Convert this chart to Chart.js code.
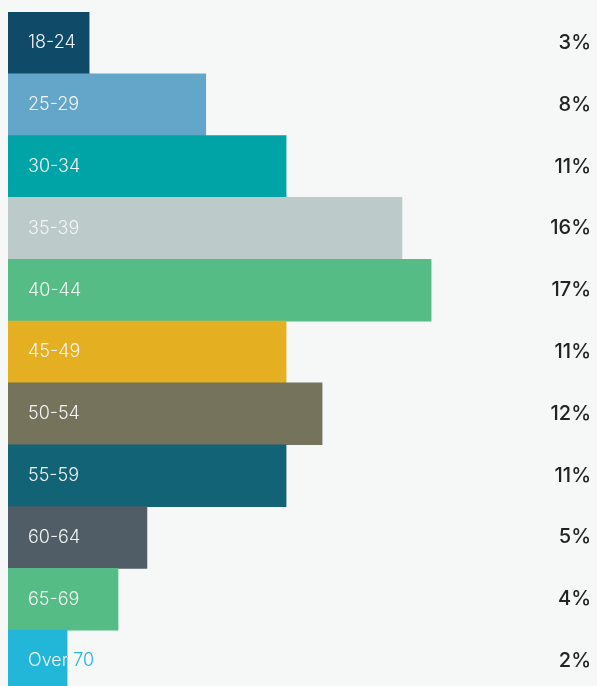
<!DOCTYPE html>
<html>
<head>
<meta charset="utf-8">
<script src="https://cdn.jsdelivr.net/npm/chart.js@4/dist/chart.umd.min.js"></script>
<style>
  html, body { margin: 0; padding: 0; background: #f6f8f8; overflow: hidden; }
  #wrap { width: 597px; height: 700px; }
</style>
</head>
<body>
<div id="wrap"><canvas id="c" width="597" height="700"></canvas></div>
<script>
const categories = ["18-24", "25-29", "30-34", "35-39", "40-44", "45-49", "50-54", "55-59", "60-64", "65-69", "Over 70"];
const values = [3.2, 7.8, 10.97, 15.54, 16.69, 10.97, 12.39, 10.97, 5.48, 4.34, 2.33];
const valueLabels = ["3%", "8%", "11%", "16%", "17%", "11%", "12%", "11%", "5%", "4%", "2%"];
const barColors = ["#0f4a69", "#64a6c9", "#00a4a6", "#bccaca", "#56bc85", "#e4b021", "#75735b", "#126376", "#505d66", "#56bc85", "#22b6d8"];

const labelPlugin = {
  id: 'labels',
  afterDatasetsDraw(chart) {
    const ctx = chart.ctx;
    const meta = chart.getDatasetMeta(0);
    meta.data.forEach((bar, i) => {
      const p = bar.getProps(['x', 'y', 'base', 'height'], true);
      const top = p.y - p.height / 2;
      ctx.save();
      ctx.font = '300 18px Inter, "Helvetica Neue", Arial, sans-serif';
      ctx.textBaseline = 'middle';
      ctx.textAlign = 'left';
      const tx = p.base + 20;
      ctx.fillStyle = barColors[i];
      ctx.fillText(categories[i], tx, p.y);
      ctx.beginPath();
      ctx.rect(p.base, top, p.x - p.base, p.height);
      ctx.clip();
      ctx.fillStyle = '#f2f5f5';
      ctx.fillText(categories[i], tx, p.y);
      ctx.restore();

      ctx.save();
      ctx.font = '500 20px Inter, "Helvetica Neue", Arial, sans-serif';
      ctx.textBaseline = 'middle';
      ctx.textAlign = 'right';
      ctx.fillStyle = '#222222';
      ctx.fillText(valueLabels[i], 591, p.y);
      ctx.restore();
    });
  }
};

new Chart(document.getElementById('c'), {
  type: 'bar',
  data: {
    labels: categories,
    datasets: [{
      data: values,
      backgroundColor: barColors,
      borderWidth: 0,
      barPercentage: 1,
      categoryPercentage: 1
    }]
  },
  options: {
    indexAxis: 'y',
    responsive: false,
    devicePixelRatio: 1,
    animation: false,
    layout: { padding: { left: 8, right: 82, top: 12, bottom: 8 } },
    plugins: { legend: { display: false }, tooltip: { enabled: false } },
    scales: {
      x: { display: false, min: 0, max: 20 },
      y: { display: false }
    }
  },
  plugins: [labelPlugin]
});
</script>
</body>
</html>
